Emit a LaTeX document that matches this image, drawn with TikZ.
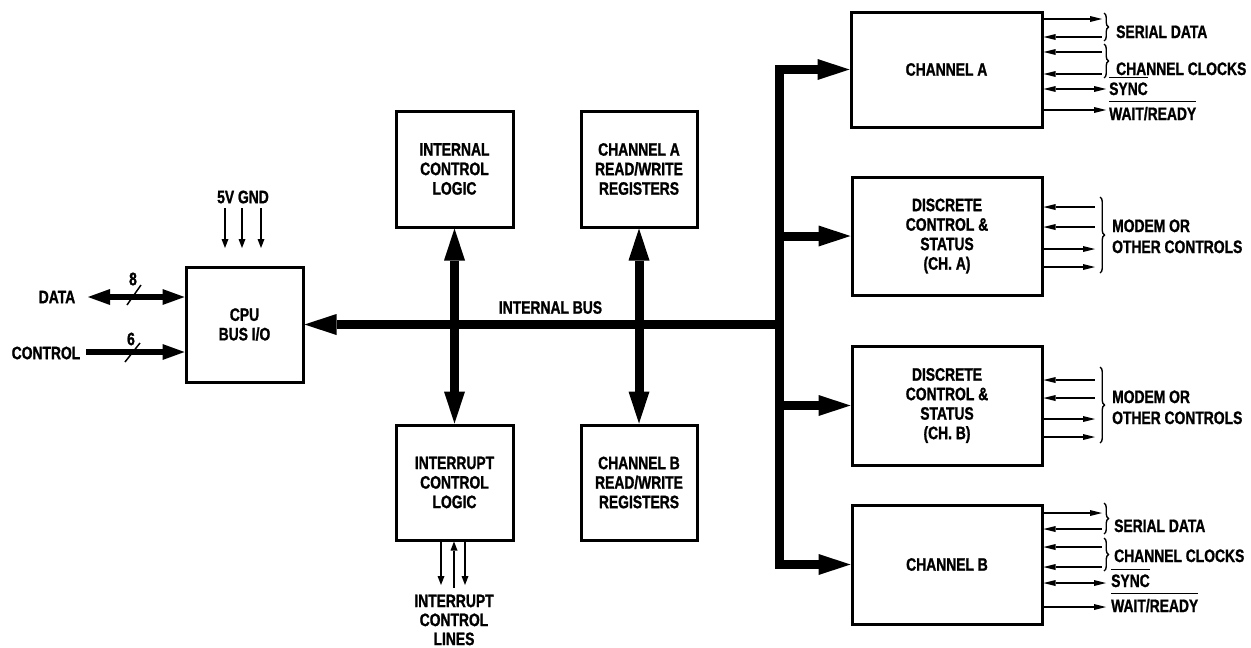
\documentclass[tikz,border=0pt]{standalone}
\usepackage{fontspec}
\setmainfont{Liberation Sans}[FakeStretch=0.77,BoldFeatures={FakeBold=1.2}]
\usetikzlibrary{arrows.meta,decorations.pathreplacing}
\newcommand\ovl[1]{\vbox{\hrule height 1.3pt\kern 4.5pt\hbox{#1}}}
\begin{document}
\begin{tikzpicture}[x=1pt,y=-1pt,
  txt/.style={font=\fontsize{18}{19.5}\selectfont\bfseries, align=center},
  blk/.style={draw, line width=3pt, txt, inner sep=0pt},
  lbl/.style={txt, inner sep=0pt},
  bus/.style={line width=9pt},
  sig/.style={line width=1.5pt},
  brc/.style={line width=1.4pt, decorate, decoration={brace, amplitude=4.5pt}},
  BT/.tip={Triangle[length=32pt,width=21pt,line width=0pt]},
  MT/.tip={Triangle[length=22pt,width=16pt,line width=0pt]},
  ST/.tip={Triangle[length=12pt,width=6pt,line width=0pt]},
  PT/.tip={Triangle[length=9pt,width=7pt,line width=0pt]},
]
\useasboundingbox (0,0) rectangle (1251,648);
\fill[white] (0,0) rectangle (1251,648);

% blocks
\node[blk, minimum width=117pt, minimum height=115pt] (cpu) at (244.5,324.5) {CPU\\BUS I/O};
\node[blk, minimum width=117pt, minimum height=116pt] (icl) at (454.5,169) {INTERNAL\\CONTROL\\LOGIC};
\node[blk, minimum width=116pt, minimum height=116pt] (rwa) at (639,169) {CHANNEL A\\READ/WRITE\\REGISTERS};
\node[blk, minimum width=117pt, minimum height=115pt] (int) at (454.5,482.5) {INTERRUPT\\CONTROL\\LOGIC};
\node[blk, minimum width=116pt, minimum height=115pt] (rwb) at (639,482.5) {CHANNEL B\\READ/WRITE\\REGISTERS};
\node[blk, minimum width=191pt, minimum height=115pt] (chA) at (946.5,69.5) {CHANNEL A};
\node[blk, minimum width=190pt, minimum height=118pt] (dA) at (947,236) {DISCRETE\\CONTROL \&\\STATUS\\(CH. A)};
\node[blk, minimum width=190pt, minimum height=119pt] (dB) at (947,405.5) {DISCRETE\\CONTROL \&\\STATUS\\(CH. B)};
\node[blk, minimum width=190pt, minimum height=119pt] (chB) at (947,564.5) {CHANNEL B};

% internal bus
\coordinate (J) at (779,324.5);
\node[lbl] (ibus) at (550.5,307.5) {INTERNAL BUS};
\draw[bus,-BT] (J) -- (cpu.east);
\draw[bus,-BT] (J) |- (chA.west);
\draw[bus,-BT] (J) |- (chB.west);
\draw[bus,-BT] (J |- dA.west) -- (dA.west);
\draw[bus,-BT] (J |- dB.west) -- (dB.west);
\draw[bus,BT-BT] (icl.south) -- (int.north);
\draw[bus,BT-BT] (rwa.south) -- (rwb.north);

% CPU side
\node[lbl] (data) at (57,297) {DATA};
\node[lbl] (ctl) at (46,353) {CONTROL};
\coordinate (dataend) at (88,297);
\coordinate (ctlend) at (86,352);
\draw[line width=6pt, MT-MT] (dataend) -- (cpu.west |- dataend);
\draw[line width=6.5pt, -MT] (ctlend) -- (cpu.west |- ctlend);
\draw[sig] (127,305) -- (141,285);
\draw[sig] (125,362) -- (140,343);
\node[lbl] (n8) at (133,279) {8};
\node[lbl] (n6) at (131,339) {6};
\node[lbl] (pwr) at (243,197) {5V GND};
\foreach \x in {225,242,261} \draw[sig,-PT] (\x,208) -- (\x,248);

% interrupt lines
\draw[sig,-PT] (int.south -| 441,0) -- (441,585);
\draw[sig,PT-] (int.south -| 454,0) -- (454,588);
\draw[sig,-PT] (int.south -| 465,0) -- (465,585);
\node[lbl, font=\fontsize{18}{19}\selectfont\bfseries] (intl) at (454,620) {INTERRUPT\\CONTROL\\LINES};

% channel A signals
\draw[sig,-ST] (chA.east |- 0,19) -- (1102,19);
\draw[sig,ST-] (chA.east |- 0,37) -- (1102,37);
\draw[sig,ST-] (chA.east |- 0,52) -- (1102,52);
\draw[sig,ST-] (chA.east |- 0,74) -- (1102,74);
\draw[sig,ST-ST] (chA.east |- 0,89) -- (1106,89);
\draw[sig,-ST] (chA.east |- 0,110) -- (1106,110);
\draw[brc] (1104,13) -- (1104,41);
\draw[brc] (1104,44) -- (1104,78);
\node[lbl, anchor=base west] (a1) at (1116,38) {SERIAL DATA};
\node[lbl, anchor=base west] (a2) at (1116,75) {CHANNEL CLOCKS};
\node[lbl, anchor=base west] (a3) at (1109,95) {\ovl{SYNC}};
\node[lbl, anchor=base west] (a4) at (1109,120) {\ovl{WAIT/READY}};

% discrete A signals
\draw[sig,ST-] (dA.east |- 0,207) -- (1095,207);
\draw[sig,ST-] (dA.east |- 0,227) -- (1095,227);
\draw[sig,-ST] (dA.east |- 0,249) -- (1095,249);
\draw[sig,-ST] (dA.east |- 0,267) -- (1095,267);
\draw[brc] (1100,197) -- (1100,273);
\node[lbl, anchor=base west] (m1) at (1112,232) {MODEM OR};
\node[lbl, anchor=base west] (m2) at (1112,253) {OTHER CONTROLS};

% discrete B signals
\draw[sig,ST-] (dB.east |- 0,380) -- (1095,380);
\draw[sig,ST-] (dB.east |- 0,398) -- (1095,398);
\draw[sig,-ST] (dB.east |- 0,419) -- (1095,419);
\draw[sig,-ST] (dB.east |- 0,437) -- (1095,437);
\draw[brc] (1100,367) -- (1100,443);
\node[lbl, anchor=base west] (m3) at (1112,403) {MODEM OR};
\node[lbl, anchor=base west] (m4) at (1112,424) {OTHER CONTROLS};

% channel B signals
\draw[sig,-ST] (chB.east |- 0,513) -- (1102,513);
\draw[sig,ST-] (chB.east |- 0,529) -- (1102,529);
\draw[sig,ST-] (chB.east |- 0,547) -- (1102,547);
\draw[sig,ST-] (chB.east |- 0,567) -- (1102,567);
\draw[sig,ST-ST] (chB.east |- 0,583) -- (1106,583);
\draw[sig,-ST] (chB.east |- 0,607) -- (1106,607);
\draw[brc] (1104,503) -- (1104,534);
\draw[brc] (1104,538) -- (1104,571);
\node[lbl, anchor=base west] (b1) at (1114,532) {SERIAL DATA};
\node[lbl, anchor=base west] (b2) at (1114,562) {CHANNEL CLOCKS};
\node[lbl, anchor=base west] (b3) at (1111,587) {\ovl{SYNC}};
\node[lbl, anchor=base west] (b4) at (1111,612) {\ovl{WAIT/READY}};
\end{tikzpicture}
\end{document}
